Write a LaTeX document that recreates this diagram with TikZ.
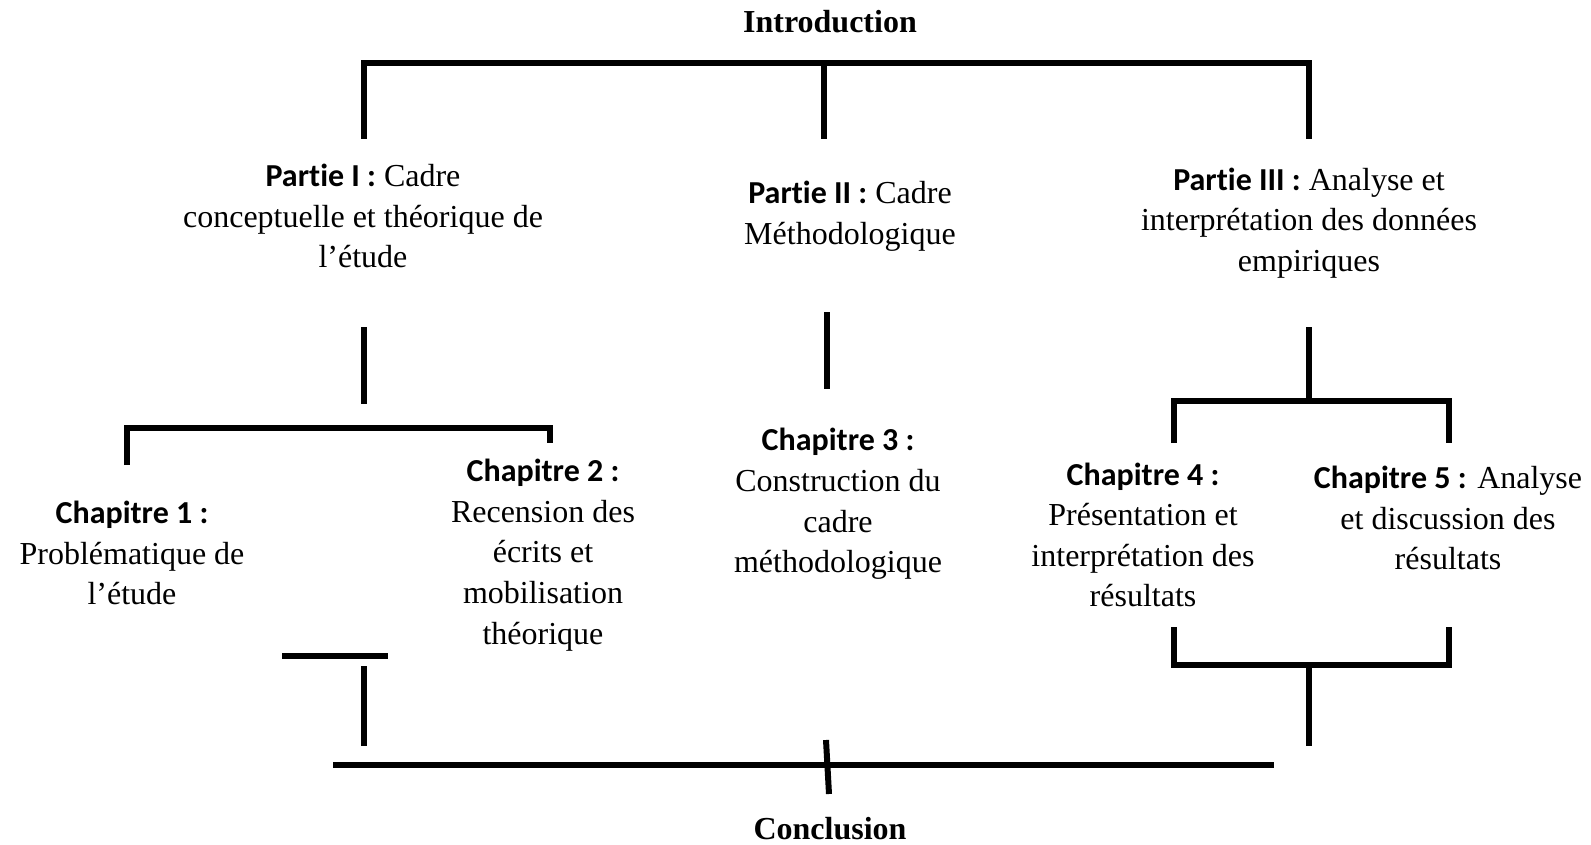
\documentclass[tikz,border=0pt]{standalone}
\usepackage{fontspec}
\setmainfont{Liberation Serif}
\newfontfamily\labelfont[Ligatures=NoCommon]{Carlito}
\usepackage{tikz}
\usetikzlibrary{positioning}

\newcommand{\lbl}[1]{{\labelfont\bfseries #1}}

\begin{document}
\begin{tikzpicture}[x=1pt, y=-1pt,
    txt/.style={align=center, inner sep=0pt,
      font=\fontsize{32}{40.6}\selectfont},
    bar/.style={line width=6pt, line join=miter}]
        \useasboundingbox (0,0) rectangle (1591,845);

        \node[txt] (intro) at (830,22) {\textbf{Introduction}};
        \node[txt] (concl) at (830,829) {\textbf{Conclusion}};

        \node[txt] (part1) at (363,216) {
          \lbl{Partie I :} Cadre\\
          conceptuelle et théorique de\\
          l’étude};
        \node[txt] (part2) at (850,216) {
          \lbl{Partie II :} Cadre\\
          Méthodologique};
        \node[txt] (part3) at (1309,223) {
          \lbl{Partie III :} Analyse et\\
          interprétation des données\\
          empiriques};

        \node[txt] (chap1) at (132,553) {
          \lbl{Chapitre 1 :}\\
          Problématique de\\
          l’étude};
        \node[txt] (chap2) at (543,555) {
          \lbl{Chapitre 2 :}\\
          Recension des\\
          écrits et\\
          mobilisation\\
          théorique};
        \node[txt] (chap3) at (838,504) {
          \lbl{Chapitre 3 :}\\
          Construction du\\
          cadre\\
          méthodologique};
        \node[txt] (chap4) at (1143,535) {
          \lbl{Chapitre 4 :}\\
          Présentation et\\
          interprétation des\\
          résultats};
        \node[txt] (chap5) at (1448,518) {
          \lbl{Chapitre 5 :} Analyse\\
          et discussion des\\
          résultats};

        % introduction bracket
        \coordinate (ia) at (364,63);
        \coordinate (ib) at (824,63);
        \coordinate (ic) at (1309,63);
        \coordinate (ia1) at (364,139);
        \coordinate (ib1) at (824,139);
        \coordinate (ic1) at (1309,139);
        \draw[bar] (ia1) -- (ia) -- (ic) -- (ic1);
        \draw[bar] (ib) -- (ib1);

        % links below the parts
        \coordinate (p1a) at (364,327);
        \coordinate (p1b) at (364,404);
        \coordinate (p2a) at (827,312);
        \coordinate (p2b) at (827,389);
        \coordinate (p3a) at (1309,327);
        \coordinate (p3b) at (1309,401);
        \draw[bar] (p1a) -- (p1b);
        \draw[bar] (p2a) -- (p2b);
        \draw[bar] (p3a) -- (p3b);

        % chapter brackets
        \coordinate (la) at (127,465);
        \coordinate (lb) at (127,428);
        \coordinate (lc) at (550,428);
        \coordinate (ld) at (550,443);
        \draw[bar] (la) -- (lb) -- (lc) -- (ld);
        \coordinate (ra) at (1174,443);
        \coordinate (rb) at (1174,401);
        \coordinate (rc) at (1449,401);
        \coordinate (rd) at (1449,443);
        \draw[bar] (ra) -- (rb) -- (rc) -- (rd);

        % towards the conclusion
        \coordinate (ua) at (282,656);
        \coordinate (ub) at (388,656);
        \coordinate (uc) at (364,666);
        \coordinate (ud) at (364,746);
        \draw[bar] (ua) -- (ub);
        \draw[bar] (uc) -- (ud);
        \coordinate (sa) at (1174,627);
        \coordinate (sb) at (1174,665);
        \coordinate (sc) at (1449,665);
        \coordinate (sd) at (1449,627);
        \coordinate (se) at (1309,665);
        \coordinate (sf) at (1309,746);
        \draw[bar] (sa) -- (sb) -- (sc) -- (sd);
        \draw[bar] (se) -- (sf);
        \coordinate (ca) at (333,765);
        \coordinate (cb) at (1274,765);
        \coordinate (cc) at (826,740);
        \coordinate (cd) at (829,794);
        \draw[bar] (ca) -- (cb);
        \draw[bar] (cc) -- (cd);
      \end{tikzpicture}
\end{document}
